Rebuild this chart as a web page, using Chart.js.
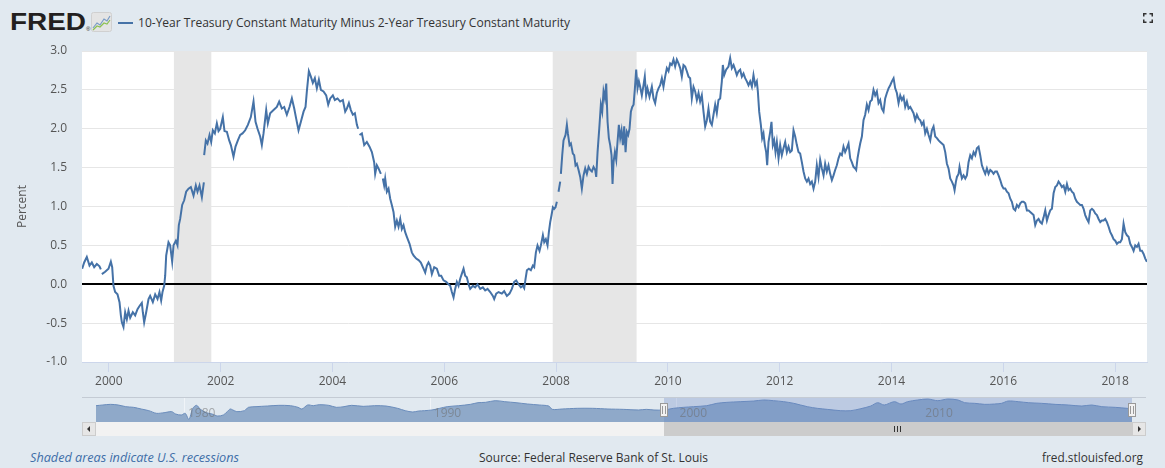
<!DOCTYPE html>
<html>
<head>
<meta charset="utf-8">
<title>10-Year Treasury Constant Maturity Minus 2-Year Treasury Constant Maturity</title>
<script src="https://cdn.jsdelivr.net/npm/chart.js@4.4.1/dist/chart.umd.min.js"></script>
<style>
  body { margin: 0; width: 1165px; height: 468px; background: #e1e9f0; position: relative; overflow: hidden; font-family: "Open Sans", sans-serif; }
  .abs { position: absolute; white-space: nowrap; }
  #logo { left: 10px; top: 10px; font: bold 24px/24px "Liberation Sans", sans-serif; color: #231f20; }
  #reg { left: 86px; top: 26px; font: 6px/6px "Liberation Sans", sans-serif; color: #231f20; }
  #icon { left: 91px; top: 12px; }
  #dash { left: 118px; top: 22px; width: 15px; height: 2px; background: #4572a7; }
  #title { left: 138px; top: 14px; font-size: 13px; line-height: 16px; color: #333; }
  #expand { left: 1143px; top: 13px; }
  #main { position: absolute; left: 0; top: 40px; }
  #nav { position: absolute; left: 0; top: 390px; }
  .foot { top: 450px; font-size: 12px; line-height: 16px; color: #333; }
  #recnote { left: 30px; font-style: italic; color: #3e6ea8; }
  #source { left: 479px; }
  #site { left: 1042px; }
</style>
</head>
<body>
<div id="logo" class="abs">FRED</div>
<div id="reg" class="abs">&reg;</div>
<svg id="icon" class="abs" width="21" height="20" viewBox="0 0 21 20">
  <rect x="0.5" y="0.5" width="20" height="19" rx="2" fill="#e4e4e4" stroke="#d0d0d0"/>
  <polyline points="2,16 6,11 9,13 13,7 16,9 19,4" fill="none" stroke="#7a9cc6" stroke-width="1.2"/>
  <polyline points="2,18 6,14 9,15 13,11 16,12 19,8" fill="none" stroke="#8cc152" stroke-width="1.2"/>
</svg>
<div id="dash" class="abs"></div>
<div id="title" class="abs">10-Year Treasury Constant Maturity Minus 2-Year Treasury Constant Maturity</div>
<svg id="expand" class="abs" width="10" height="10" viewBox="0 0 10 10">
  <path d="M0.75 3.5V0.75H3.5M6.5 0.75H9.25V3.5M9.25 6.5V9.25H6.5M3.5 9.25H0.75V6.5" fill="none" stroke="#333" stroke-width="1.5"/>
</svg>
<canvas id="main" width="1165" height="355"></canvas>
<canvas id="nav" width="1165" height="50"></canvas>
<div id="recnote" class="abs foot">Shaded areas indicate U.S. recessions</div>
<div id="source" class="abs foot">Source: Federal Reserve Bank of St. Louis</div>
<div id="site" class="abs foot">fred.stlouisfed.org</div>

<script>
// ---- data (T10Y2Y) ----
const seriesTitle = '10-Year Treasury Constant Maturity Minus 2-Year Treasury Constant Maturity';

const spreadDates = [
  1999.523, 1999.559, 1999.606, 1999.654, 1999.696, 1999.738, 1999.785, 1999.833, 1999.857, 1999.866,
  1999.875, 1999.934, 1999.994, 2000.036, 2000.060, 2000.083, 2000.113, 2000.155, 2000.191, 2000.215,
  2000.233, 2000.262, 2000.292, 2000.322, 2000.352, 2000.382, 2000.429, 2000.471, 2000.513, 2000.549,
  2000.590, 2000.608, 2000.632, 2000.668, 2000.710, 2000.739, 2000.787, 2000.829, 2000.871, 2000.906,
  2000.936, 2000.960, 2000.990, 2001.008, 2001.026, 2001.067, 2001.097, 2001.133, 2001.157, 2001.199,
  2001.228, 2001.252, 2001.276, 2001.312, 2001.348, 2001.383, 2001.425, 2001.467, 2001.515, 2001.556,
  2001.586, 2001.622, 2001.664, 2001.700, 2001.702, 2001.705, 2001.735, 2001.765, 2001.801, 2001.831,
  2001.860, 2001.896, 2001.932, 2001.962, 2001.992, 2002.039, 2002.069, 2002.111, 2002.153, 2002.183,
  2002.230, 2002.266, 2002.308, 2002.350, 2002.391, 2002.439, 2002.487, 2002.540, 2002.588, 2002.624,
  2002.660, 2002.707, 2002.737, 2002.767, 2002.815, 2002.844, 2002.886, 2002.946, 2003.005, 2003.047,
  2003.095, 2003.137, 2003.184, 2003.232, 2003.274, 2003.316, 2003.351, 2003.393, 2003.435, 2003.483,
  2003.518, 2003.542, 2003.578, 2003.614, 2003.649, 2003.685, 2003.721, 2003.757, 2003.793, 2003.840,
  2003.888, 2003.924, 2003.960, 2004.007, 2004.043, 2004.091, 2004.138, 2004.186, 2004.228, 2004.258,
  2004.294, 2004.329, 2004.365, 2004.401, 2004.437, 2004.460, 2004.472, 2004.484, 2004.526, 2004.568,
  2004.615, 2004.663, 2004.705, 2004.746, 2004.764, 2004.794, 2004.824, 2004.866, 2004.880, 2004.901,
  2004.925, 2004.943, 2004.973, 2005.003, 2005.033, 2005.062, 2005.092, 2005.122, 2005.152, 2005.182,
  2005.212, 2005.241, 2005.271, 2005.301, 2005.331, 2005.379, 2005.420, 2005.450, 2005.498, 2005.540,
  2005.581, 2005.629, 2005.659, 2005.689, 2005.718, 2005.748, 2005.778, 2005.820, 2005.867, 2005.909,
  2005.945, 2005.987, 2006.034, 2006.076, 2006.106, 2006.136, 2006.166, 2006.195, 2006.225, 2006.255,
  2006.285, 2006.321, 2006.345, 2006.374, 2006.404, 2006.434, 2006.464, 2006.512, 2006.553, 2006.595,
  2006.643, 2006.690, 2006.732, 2006.774, 2006.822, 2006.869, 2006.893, 2006.929, 2006.971, 2007.030,
  2007.072, 2007.120, 2007.167, 2007.209, 2007.251, 2007.287, 2007.328, 2007.370, 2007.406, 2007.430,
  2007.454, 2007.478, 2007.513, 2007.549, 2007.585, 2007.609, 2007.639, 2007.668, 2007.704, 2007.728,
  2007.764, 2007.788, 2007.817, 2007.847, 2007.871, 2007.895, 2007.919, 2007.943, 2007.966, 2007.990,
  2008.014, 2008.030, 2008.044, 2008.074, 2008.080, 2008.086, 2008.110, 2008.133, 2008.169, 2008.193,
  2008.211, 2008.241, 2008.265, 2008.300, 2008.324, 2008.348, 2008.372, 2008.402, 2008.432, 2008.461,
  2008.491, 2008.521, 2008.551, 2008.581, 2008.610, 2008.640, 2008.670, 2008.700, 2008.718, 2008.742,
  2008.777, 2008.801, 2008.825, 2008.849, 2008.873, 2008.897, 2008.921, 2008.944, 2008.968, 2008.992,
  2009.010, 2009.028, 2009.052, 2009.076, 2009.099, 2009.123, 2009.147, 2009.171, 2009.195, 2009.219,
  2009.243, 2009.266, 2009.290, 2009.314, 2009.338, 2009.362, 2009.386, 2009.410, 2009.433, 2009.457,
  2009.481, 2009.504, 2009.534, 2009.564, 2009.587, 2009.611, 2009.635, 2009.671, 2009.713, 2009.743,
  2009.772, 2009.802, 2009.832, 2009.862, 2009.892, 2009.921, 2009.951, 2009.981, 2010.011, 2010.041,
  2010.070, 2010.100, 2010.130, 2010.160, 2010.190, 2010.220, 2010.249, 2010.279, 2010.309, 2010.339,
  2010.369, 2010.398, 2010.428, 2010.458, 2010.488, 2010.518, 2010.548, 2010.577, 2010.607, 2010.637,
  2010.667, 2010.697, 2010.726, 2010.756, 2010.786, 2010.816, 2010.846, 2010.875, 2010.905, 2010.935,
  2010.965, 2010.983, 2011.007, 2011.042, 2011.084, 2011.114, 2011.144, 2011.174, 2011.203, 2011.233,
  2011.263, 2011.293, 2011.323, 2011.352, 2011.382, 2011.412, 2011.442, 2011.472, 2011.502, 2011.531,
  2011.561, 2011.591, 2011.609, 2011.633, 2011.663, 2011.686, 2011.710, 2011.734, 2011.758, 2011.776,
  2011.800, 2011.830, 2011.853, 2011.877, 2011.901, 2011.925, 2011.949, 2011.979, 2012.008, 2012.038,
  2012.068, 2012.098, 2012.128, 2012.158, 2012.187, 2012.217, 2012.247, 2012.277, 2012.307, 2012.336,
  2012.366, 2012.396, 2012.426, 2012.456, 2012.486, 2012.515, 2012.545, 2012.575, 2012.605, 2012.635,
  2012.664, 2012.694, 2012.724, 2012.754, 2012.784, 2012.813, 2012.843, 2012.873, 2012.903, 2012.933,
  2012.963, 2012.992, 2013.022, 2013.052, 2013.082, 2013.112, 2013.141, 2013.171, 2013.201, 2013.231,
  2013.261, 2013.290, 2013.320, 2013.350, 2013.368, 2013.392, 2013.416, 2013.440, 2013.470, 2013.499,
  2013.529, 2013.559, 2013.589, 2013.619, 2013.648, 2013.678, 2013.708, 2013.738, 2013.768, 2013.797,
  2013.827, 2013.857, 2013.887, 2013.917, 2013.947, 2013.977, 2014.007, 2014.037, 2014.066, 2014.096,
  2014.126, 2014.156, 2014.186, 2014.216, 2014.245, 2014.275, 2014.305, 2014.335, 2014.365, 2014.394,
  2014.424, 2014.454, 2014.484, 2014.514, 2014.543, 2014.573, 2014.603, 2014.633, 2014.663, 2014.693,
  2014.722, 2014.752, 2014.782, 2014.812, 2014.842, 2014.871, 2014.901, 2014.931, 2014.961, 2014.991,
  2015.020, 2015.050, 2015.080, 2015.110, 2015.128, 2015.152, 2015.170, 2015.199, 2015.217, 2015.241,
  2015.259, 2015.289, 2015.319, 2015.348, 2015.378, 2015.408, 2015.438, 2015.468, 2015.498, 2015.527,
  2015.557, 2015.587, 2015.617, 2015.647, 2015.676, 2015.706, 2015.736, 2015.766, 2015.796, 2015.825,
  2015.855, 2015.885, 2015.915, 2015.945, 2015.975, 2016.004, 2016.034, 2016.064, 2016.094, 2016.124,
  2016.153, 2016.183, 2016.213, 2016.243, 2016.273, 2016.303, 2016.332, 2016.362, 2016.392, 2016.422,
  2016.452, 2016.481, 2016.511, 2016.541, 2016.571, 2016.601, 2016.630, 2016.660, 2016.690, 2016.720,
  2016.750, 2016.780, 2016.809, 2016.839, 2016.869, 2016.899, 2016.929, 2016.959, 2016.988, 2017.018,
  2017.048, 2017.078, 2017.108, 2017.138, 2017.167, 2017.197, 2017.227, 2017.257, 2017.287, 2017.316,
  2017.346, 2017.376, 2017.406, 2017.436, 2017.465, 2017.495, 2017.525, 2017.555, 2017.585, 2017.614,
  2017.644, 2017.674, 2017.704, 2017.734, 2017.764, 2017.793, 2017.823, 2017.853, 2017.883, 2017.913,
  2017.942, 2017.972, 2018.002, 2018.032, 2018.062, 2018.091, 2018.121, 2018.151, 2018.181, 2018.211,
  2018.240, 2018.270, 2018.300, 2018.330, 2018.360, 2018.390, 2018.419, 2018.449, 2018.479, 2018.509,
  2018.539, 2018.568
];

// percent; null = missing day (the line breaks there)
const spreadValues = [
  0.20, 0.28, 0.35, 0.24, 0.28, 0.22, 0.26, 0.23, 0.19, null,
  0.13, 0.16, 0.20, 0.29, 0.22, -0.02, -0.10, -0.13, -0.23, -0.40,
  -0.49, -0.55, -0.36, -0.45, -0.34, -0.43, -0.36, -0.40, -0.32, -0.28,
  -0.24, -0.36, -0.49, -0.36, -0.19, -0.15, -0.23, -0.13, -0.19, -0.10,
  -0.21, -0.10, -0.02, 0.11, 0.37, 0.54, 0.50, 0.29, 0.50, 0.56,
  0.50, 0.76, 0.84, 1.02, 1.08, 1.19, 1.23, 1.25, 1.14, 1.27,
  1.19, 1.27, 1.12, 1.31, null, 1.66, 1.85, 1.81, 1.92, 1.83,
  1.98, 1.94, 2.07, 1.97, 2.00, 2.15, 1.97, 1.96, 1.85, 1.79,
  1.64, 1.77, 1.85, 1.92, 1.94, 1.98, 2.05, 2.15, 2.35, 2.09,
  2.00, 1.90, 1.79, 1.94, 2.24, 2.07, 2.20, 2.24, 2.28, 2.35,
  2.26, 2.28, 2.18, 2.28, 2.39, 2.26, 2.13, 1.98, 2.09, 2.22,
  2.28, 2.48, 2.74, 2.67, 2.59, 2.65, 2.52, 2.63, 2.50, 2.48,
  2.43, 2.31, 2.39, 2.43, 2.37, 2.39, 2.35, 2.37, 2.22, 2.26,
  2.33, 2.24, 2.18, 2.20, 2.05, 2.00, null, 1.92, 1.94, 1.79,
  1.83, 1.77, 1.70, 1.57, 1.42, 1.53, 1.49, 1.42, null, 1.36,
  1.27, 1.36, 1.19, 1.23, 1.10, 1.02, 0.93, 0.74, 0.82, 0.74,
  0.84, 0.71, 0.76, 0.67, 0.61, 0.52, 0.41, 0.37, 0.33, 0.31,
  0.28, 0.20, 0.15, 0.24, 0.28, 0.24, 0.13, 0.22, 0.20, 0.11,
  0.11, 0.05, 0.03, 0.00, -0.02, -0.10, -0.17, -0.06, 0.03, -0.02,
  0.07, 0.15, 0.20, 0.11, 0.09, 0.00, -0.06, -0.02, -0.04, 0.00,
  -0.06, -0.04, -0.08, -0.06, -0.10, -0.15, -0.19, -0.12, -0.10, -0.12,
  -0.09, -0.15, -0.12, -0.06, 0.03, 0.05, 0.00, -0.04, -0.02, -0.05,
  0.07, 0.18, 0.20, 0.18, 0.24, 0.22, 0.41, 0.50, 0.43, 0.50,
  0.63, 0.54, 0.58, 0.50, 0.67, 0.80, 0.89, 0.99, 0.97, 0.99,
  1.06, null, 1.19, 1.32, null, 1.42, 1.66, 1.85, 1.92, 2.05,
  1.94, 1.79, 1.81, 1.68, 1.66, 1.53, 1.55, 1.47, 1.38, 1.23,
  1.40, 1.49, 1.42, 1.51, 1.47, 1.45, 1.51, 1.47, 1.38, 1.70,
  2.05, 2.31, 2.22, 2.48, 2.39, 2.58, 2.09, 1.88, 1.79, 1.66,
  1.29, 1.57, 1.70, 1.60, 1.83, 2.05, 1.88, 1.98, 1.79, 2.03,
  1.70, 1.96, 1.92, 2.00, 2.22, 2.28, 2.31, 2.52, 2.76, 2.52,
  2.61, 2.54, 2.43, 2.56, 2.67, 2.43, 2.52, 2.41, 2.54, 2.39,
  2.33, 2.46, 2.52, 2.56, 2.65, 2.54, 2.67, 2.78, 2.74, 2.84,
  2.82, 2.89, 2.80, 2.89, 2.84, 2.78, 2.67, 2.82, 2.80, 2.74,
  2.67, 2.65, 2.39, 2.54, 2.48, 2.37, 2.46, 2.35, 2.43, 2.22,
  2.03, 2.11, 2.26, 2.09, 2.05, 2.18, 2.31, 2.20, 2.37, 2.39,
  2.61, 2.82, 2.69, 2.76, 2.80, 2.91, 2.78, 2.82, 2.76, 2.69,
  2.74, 2.76, 2.67, 2.71, 2.65, 2.61, 2.56, 2.61, 2.54, 2.69,
  2.56, 2.61, 2.48, 2.22, 2.05, 1.88, 1.94, 1.79, 1.70, 1.53,
  1.83, 1.96, 2.09, 1.79, 1.85, 1.70, 1.83, 1.62, 1.79, 1.66,
  1.75, 1.83, 1.70, 1.77, 1.70, 1.72, 1.98, 1.90, 1.79, 1.70,
  1.68, 1.57, 1.45, 1.36, 1.32, 1.36, 1.29, 1.32, 1.23, 1.32,
  1.53, 1.38, 1.60, 1.49, 1.40, 1.55, 1.45, 1.53, 1.42, 1.34,
  1.40, 1.47, 1.53, 1.62, 1.68, 1.66, 1.77, 1.70, 1.75, 1.81,
  1.62, 1.57, 1.51, 1.49, 1.47, 1.62, 1.72, 1.81, 1.90, 2.11,
  2.18, 2.31, 2.24, 2.35, 2.37, 2.50, 2.43, 2.48, 2.33, 2.37,
  2.26, 2.22, 2.39, 2.46, 2.52, 2.56, 2.61, 2.65, 2.52, 2.46,
  2.33, 2.43, 2.37, 2.41, 2.28, 2.35, 2.26, 2.28, 2.24, 2.20,
  2.11, 2.18, 2.13, 2.11, 2.05, 2.09, 1.94, 2.00, 1.92, 1.85,
  1.98, 2.03, 1.90, 1.88, 1.85, 1.83, 1.81, 1.79, 1.70, 1.55,
  1.49, 1.36, 1.32, 1.27, 1.21, 1.32, 1.38, 1.42, 1.51, 1.42,
  1.36, 1.40, 1.36, 1.40, 1.57, 1.66, 1.62, 1.70, 1.66, 1.75,
  1.77, 1.66, 1.53, 1.47, 1.42, 1.49, 1.42, 1.47, 1.45, 1.42,
  1.45, 1.45, 1.40, 1.34, 1.27, 1.23, 1.23, 1.19, 1.17, 1.10,
  1.06, 0.97, 0.95, 1.02, 0.99, 1.04, 1.06, 1.06, 1.04, 0.95,
  0.95, 0.93, 0.91, 0.89, 0.76, 0.82, 0.84, 0.80, 0.78, 0.86,
  0.95, 0.82, 0.89, 0.95, 0.97, 1.17, 1.25, 1.27, 1.32, 1.29,
  1.25, 1.27, 1.19, 1.29, 1.21, 1.23, 1.19, 1.17, 1.10, 1.06,
  1.04, 1.02, 1.02, 0.97, 0.89, 0.84, 0.80, 0.95, 0.97, 0.95,
  0.91, 0.89, 0.84, 0.80, 0.82, 0.82, 0.84, 0.80, 0.74, 0.67,
  0.63, 0.58, 0.56, 0.52, 0.54, 0.54, 0.58, 0.78, 0.67, 0.63,
  0.61, 0.52, 0.48, 0.43, 0.50, 0.48, 0.52, 0.43, 0.43, 0.39,
  0.33, 0.29
];

// NBER recessions (shaded)
const recessionStarts = [2001.164, 2007.94];
const recessionEnds = [2001.833, 2009.44];

const viewStart = 1999.52;
const viewEnd = 2018.57;
const xTickYears = [2000, 2002, 2004, 2006, 2008, 2010, 2012, 2014, 2016, 2018];
const yTicks = [-1.0, -0.5, 0.0, 0.5, 1.0, 1.5, 2.0, 2.5, 3.0];

// navigator: whole history of the series, smoothed as FRED shows it
const navDates = [
  1976.42, 1976.70, 1977.01, 1977.32, 1977.63, 1977.95, 1978.26, 1978.57, 1978.88, 1979.19,
  1979.50, 1979.66, 1979.89, 1980.05, 1980.20, 1980.36, 1980.51, 1980.67, 1980.90, 1981.14,
  1981.37, 1981.60, 1981.76, 1981.88, 1981.99, 1982.15, 1982.46, 1982.62, 1982.93, 1983.39,
  1983.86, 1984.33, 1984.64, 1984.80, 1985.03, 1985.26, 1985.50, 1985.89, 1986.20, 1986.51,
  1986.82, 1987.29, 1987.75, 1988.22, 1988.69, 1989.00, 1989.31, 1989.54, 1989.78, 1990.09,
  1990.40, 1990.71, 1991.18, 1991.65, 1991.96, 1992.27, 1992.66, 1993.05, 1993.51, 1993.98,
  1994.45, 1994.84, 1994.99, 1995.38, 1996.00, 1996.63, 1997.25, 1997.87, 1998.50, 1998.81,
  1999.12, 1999.53, 1999.91, 2000.32, 2000.73, 2001.27, 2001.68, 2002.09, 2002.63, 2003.18,
  2003.59, 2003.99, 2004.40, 2004.81, 2005.36, 2005.77, 2006.17, 2006.72, 2007.13, 2007.54,
  2007.94, 2008.22, 2008.49, 2008.90, 2009.17, 2009.44, 2009.85, 2010.26, 2010.67, 2011.08,
  2011.49, 2011.76, 2012.17, 2012.58, 2012.98, 2013.26, 2013.53, 2013.94, 2014.35, 2014.89,
  2015.44, 2015.98, 2016.53, 2016.93, 2017.34, 2017.89, 2018.37, 2018.57
];
const navValues = [
  1.17, 1.33, 1.48, 1.33, 0.94, 0.78, 0.39, 0.00, -0.62, -0.47,
  -0.23, -0.78, -1.01, -0.62, -2.03, 0.55, 1.25, 0.31, -0.47, -0.78,
  -1.25, -1.01, -0.23, 0.39, 0.16, -0.23, 0.00, 0.78, 0.94, 1.09,
  1.25, 1.17, 0.78, 0.39, 1.33, 1.17, 1.40, 1.25, 0.78, 0.94,
  1.25, 1.01, 1.17, 1.09, 0.55, 0.00, -0.31, -0.08, 0.00, 0.16,
  0.55, 0.94, 1.17, 1.48, 1.87, 1.95, 2.34, 2.11, 1.87, 1.56,
  1.33, 1.09, 0.31, 0.39, 0.55, 0.55, 0.39, 0.31, 0.16, 0.31,
  0.16, 0.16, 0.55, 0.78, 0.94, 1.17, 1.72, 1.95, 2.11, 2.26,
  2.50, 2.34, 2.11, 1.72, 0.94, 0.55, 0.31, 0.00, 0.00, 0.47,
  1.09, 1.87, 1.33, 2.11, 1.56, 2.11, 2.50, 2.73, 2.34, 2.73,
  2.50, 1.87, 1.72, 1.48, 1.56, 1.72, 2.26, 2.11, 1.87, 1.72,
  1.48, 1.33, 1.09, 1.33, 0.94, 0.78, 0.55, 0.47
];
const navTickYears = [1980, 1990, 2000, 2010];

// ---- helpers ----
const tickFont = { family: 'Open Sans', size: 12 };

function fitWidth(id, w) {
  const el = document.getElementById(id);
  const r = w / el.getBoundingClientRect().width;
  el.style.transformOrigin = 'left center';
  el.style.transform = 'scaleX(' + r + ')';
}

// white plot area, recession bands and the zero line
const plotDecor = {
  id: 'plotDecor',
  beforeDraw(chart) {
    const { ctx, chartArea: a } = chart;
    ctx.save();
    ctx.fillStyle = '#ffffff';
    ctx.fillRect(a.left, a.top, a.right - a.left, a.bottom - a.top);
    ctx.restore();
  },
  beforeDatasetsDraw(chart) {
    const { ctx, chartArea: a, scales: { x, y } } = chart;
    ctx.save();
    ctx.fillStyle = '#e6e6e6';
    recessionStarts.forEach((s, i) => {
      const x0 = Math.max(x.getPixelForValue(s), a.left);
      const x1 = Math.min(x.getPixelForValue(recessionEnds[i]), a.right);
      ctx.fillRect(x0, a.top, x1 - x0, a.bottom - a.top);
    });
    const y0 = Math.round(y.getPixelForValue(0));
    ctx.strokeStyle = '#000000';
    ctx.lineWidth = 2;
    ctx.beginPath();
    ctx.moveTo(a.left, y0);
    ctx.lineTo(a.right, y0);
    ctx.stroke();
    ctx.restore();
  }
};

const mainChart = new Chart(document.getElementById('main'), {
  type: 'line',
  data: {
    datasets: [{
      label: seriesTitle,
      data: spreadDates.map((d, i) => ({ x: d, y: spreadValues[i] })),
      borderColor: '#4572a7',
      borderWidth: 2,
      pointRadius: 0,
      tension: 0,
      spanGaps: false,
    }]
  },
  options: {
    responsive: false,
    animation: false,
    layout: { padding: { top: 11, right: 18, left: 0, bottom: 0 } },
    plugins: { legend: { display: false }, tooltip: { enabled: false } },
    scales: {
      x: {
        type: 'linear',
        min: viewStart,
        max: viewEnd,
        afterBuildTicks: (s) => { s.ticks = xTickYears.map(v => ({ value: v })); },
        afterFit: (s) => { s.height = 33; s.paddingLeft = 0; s.paddingRight = 0; },
        grid: { drawOnChartArea: false, drawTicks: true, tickLength: 10, color: '#ccd6eb' },
        border: { color: '#ccd6eb' },
        ticks: { color: '#555', font: tickFont, padding: 2, maxRotation: 0, autoSkip: false, callback: v => String(v) },
      },
      y: {
        min: -1,
        max: 3,
        afterBuildTicks: (s) => { s.ticks = yTicks.map(v => ({ value: v })); },
        afterFit: (s) => { s.width = 82; s.paddingTop = 0; s.paddingBottom = 0; },
        grid: { color: '#e6e6e6', drawTicks: false },
        border: { display: false },
        ticks: { color: '#555', font: tickFont, padding: 15, callback: v => v.toFixed(1) },
        title: { display: true, text: 'Percent', color: '#555', font: tickFont, padding: { top: 15, bottom: 0 } },
      }
    }
  },
  plugins: [plotDecor]
});

// navigator mask, handles, labels and the scrollbar under it
const navigatorDecor = {
  id: 'navigatorDecor',
  beforeDatasetsDraw(chart) {
    const { ctx, chartArea: a, scales: { x } } = chart;
    ctx.save();
    ctx.strokeStyle = 'rgba(255,255,255,0.5)';
    ctx.lineWidth = 1;
    navTickYears.forEach(t => {
      const px = Math.round(x.getPixelForValue(t)) + 0.5;
      ctx.beginPath(); ctx.moveTo(px, a.top); ctx.lineTo(px, a.bottom); ctx.stroke();
    });
    ctx.restore();
  },
  afterDatasetsDraw(chart) {
    const { ctx, chartArea: a, scales: { x } } = chart;
    const s0 = Math.round(x.getPixelForValue(viewStart));
    const s1 = Math.round(x.getPixelForValue(viewEnd));
    ctx.save();
    // outline along the top
    ctx.strokeStyle = '#c4cbd4';
    ctx.lineWidth = 1;
    ctx.beginPath(); ctx.moveTo(a.left - 14, a.top + 0.5); ctx.lineTo(a.right + 14, a.top + 0.5); ctx.stroke();
    // selected range
    ctx.fillStyle = 'rgba(102,133,194,0.3)';
    ctx.fillRect(s0, a.top + 1, s1 - s0, a.bottom - a.top - 1);
    // year labels
    ctx.fillStyle = 'rgba(110,110,110,0.55)';
    ctx.font = '12px "Open Sans"';
    ctx.textBaseline = 'middle';
    navTickYears.forEach(t => ctx.fillText(String(t), x.getPixelForValue(t) + 4, a.top + 17));
    // scrollbar
    const sy = a.bottom, sh = 14;
    ctx.fillStyle = '#f2f2f2';
    ctx.fillRect(a.left, sy, a.right - a.left, sh);
    ctx.fillStyle = '#cccccc';
    ctx.fillRect(s0, sy, s1 - s0, sh);
    ctx.fillStyle = '#333';
    const gx = Math.round((s0 + s1) / 2);
    [-3, 0, 3].forEach(o => ctx.fillRect(gx + o - 1, sy + 4, 1, 6));
    [[a.left - 14, -1], [a.right, 1]].forEach(([bx, dir]) => {
      ctx.fillStyle = '#e6e6e6';
      ctx.fillRect(bx, sy, 14, sh);
      ctx.strokeStyle = '#cccccc';
      ctx.strokeRect(bx + 0.5, sy + 0.5, 13, sh - 1);
      ctx.fillStyle = '#333';
      ctx.beginPath();
      const cx = bx + 7, cy = sy + 7;
      ctx.moveTo(cx + 2 * dir, cy);
      ctx.lineTo(cx - 1 * dir, cy - 3);
      ctx.lineTo(cx - 1 * dir, cy + 3);
      ctx.closePath();
      ctx.fill();
    });
    // handles
    [s0, s1].forEach(hx => {
      ctx.fillStyle = '#f2f2f2';
      ctx.strokeStyle = '#999999';
      ctx.fillRect(hx - 4, a.top + 6, 8, 14);
      ctx.strokeRect(hx - 3.5, a.top + 6.5, 7, 13);
      ctx.beginPath();
      ctx.moveTo(hx - 1.5, a.top + 9); ctx.lineTo(hx - 1.5, a.top + 17);
      ctx.moveTo(hx + 1.5, a.top + 9); ctx.lineTo(hx + 1.5, a.top + 17);
      ctx.stroke();
    });
    ctx.restore();
  }
};

const navChart = new Chart(document.getElementById('nav'), {
  type: 'line',
  data: {
    datasets: [{
      data: navDates.map((d, i) => ({ x: d, y: navValues[i] })),
      borderColor: '#6a8cbb',
      borderWidth: 1,
      backgroundColor: '#8fa9c9',
      fill: 'start',
      pointRadius: 0,
      tension: 0.3,
    }]
  },
  options: {
    responsive: false,
    animation: false,
    layout: { padding: { left: 96, right: 33, top: 7, bottom: 18 } },
    plugins: { legend: { display: false }, tooltip: { enabled: false } },
    scales: {
      x: { type: 'linear', display: false, min: 1976.42, max: 2018.57 },
      y: { display: false, min: -2.65, max: 3.2 },
    }
  },
  plugins: [navigatorDecor]
});

fitWidth('logo', 76);
fitWidth('title', 432);
fitWidth('recnote', 209);
fitWidth('source', 229);
fitWidth('site', 101);
</script>
</body>
</html>
